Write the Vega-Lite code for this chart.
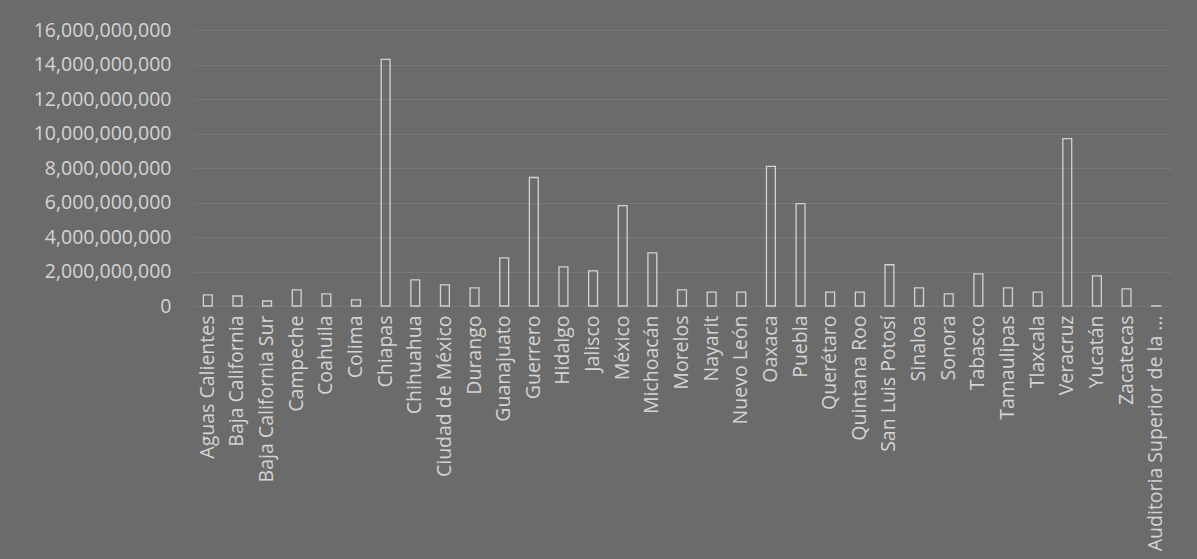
{
  "$schema": "https://vega.github.io/schema/vega-lite/v6.json",
  "width": 978,
  "height": 276,
  "autosize": {"type": "none"},
  "padding": {"left": 193, "top": 30, "right": 26, "bottom": 253},
  "background": "#6b6b6b",
  "config": {
    "view": {"stroke": null},
    "font": "Open Sans",
    "axis": {"labelColor": "#d4d4d4", "labelFont": "Open Sans", "labelFontSize": 19.5, "domain": false, "ticks": false, "title": null}
  },
  "data": {
    "values": [
      {"estado": "Aguas Calientes", "monto": 640000000},
      {"estado": "Baja California", "monto": 580000000},
      {"estado": "Baja California Sur", "monto": 290000000},
      {"estado": "Campeche", "monto": 930000000},
      {"estado": "Coahuila", "monto": 700000000},
      {"estado": "Colima", "monto": 350000000},
      {"estado": "Chiapas", "monto": 14300000000},
      {"estado": "Chihuahua", "monto": 1510000000},
      {"estado": "Ciudad de México", "monto": 1220000000},
      {"estado": "Durango", "monto": 1050000000},
      {"estado": "Guanajuato", "monto": 2790000000},
      {"estado": "Guerrero", "monto": 7450000000},
      {"estado": "Hidalgo", "monto": 2270000000},
      {"estado": "Jalisco", "monto": 2040000000},
      {"estado": "México", "monto": 5820000000},
      {"estado": "Michoacán", "monto": 3080000000},
      {"estado": "Morelos", "monto": 930000000},
      {"estado": "Nayarit", "monto": 810000000},
      {"estado": "Nuevo León", "monto": 810000000},
      {"estado": "Oaxaca", "monto": 8090000000},
      {"estado": "Puebla", "monto": 5930000000},
      {"estado": "Querétaro", "monto": 810000000},
      {"estado": "Quintana Roo", "monto": 810000000},
      {"estado": "San Luis Potosí", "monto": 2390000000},
      {"estado": "Sinaloa", "monto": 1050000000},
      {"estado": "Sonora", "monto": 700000000},
      {"estado": "Tabasco", "monto": 1860000000},
      {"estado": "Tamaulipas", "monto": 1050000000},
      {"estado": "Tlaxcala", "monto": 810000000},
      {"estado": "Veracruz", "monto": 9700000000},
      {"estado": "Yucatán", "monto": 1750000000},
      {"estado": "Zacatecas", "monto": 990000000},
      {"estado": "Auditoria Superior de la Federación", "monto": 10000000}
    ]
  },
  "mark": {"type": "bar", "fill": "transparent", "stroke": "#d2d2d2", "strokeWidth": 1.3},
  "encoding": {
    "x": {
      "field": "estado",
      "type": "nominal",
      "sort": null,
      "scale": {"paddingInner": 0.7, "paddingOuter": 0.35},
      "axis": {"labelAngle": -90, "labelAlign": "right", "labelBaseline": "middle", "labelPadding": 9, "labelLimit": 240, "grid": false}
    },
    "y": {
      "field": "monto",
      "type": "quantitative",
      "scale": {"domain": [0, 16000000000], "nice": false},
      "axis": {"values": [0, 2000000000, 4000000000, 6000000000, 8000000000, 10000000000, 12000000000, 14000000000, 16000000000], "format": ",d", "labelPadding": 22, "grid": true, "gridColor": "#777777", "gridWidth": 1}
    }
  }
}
